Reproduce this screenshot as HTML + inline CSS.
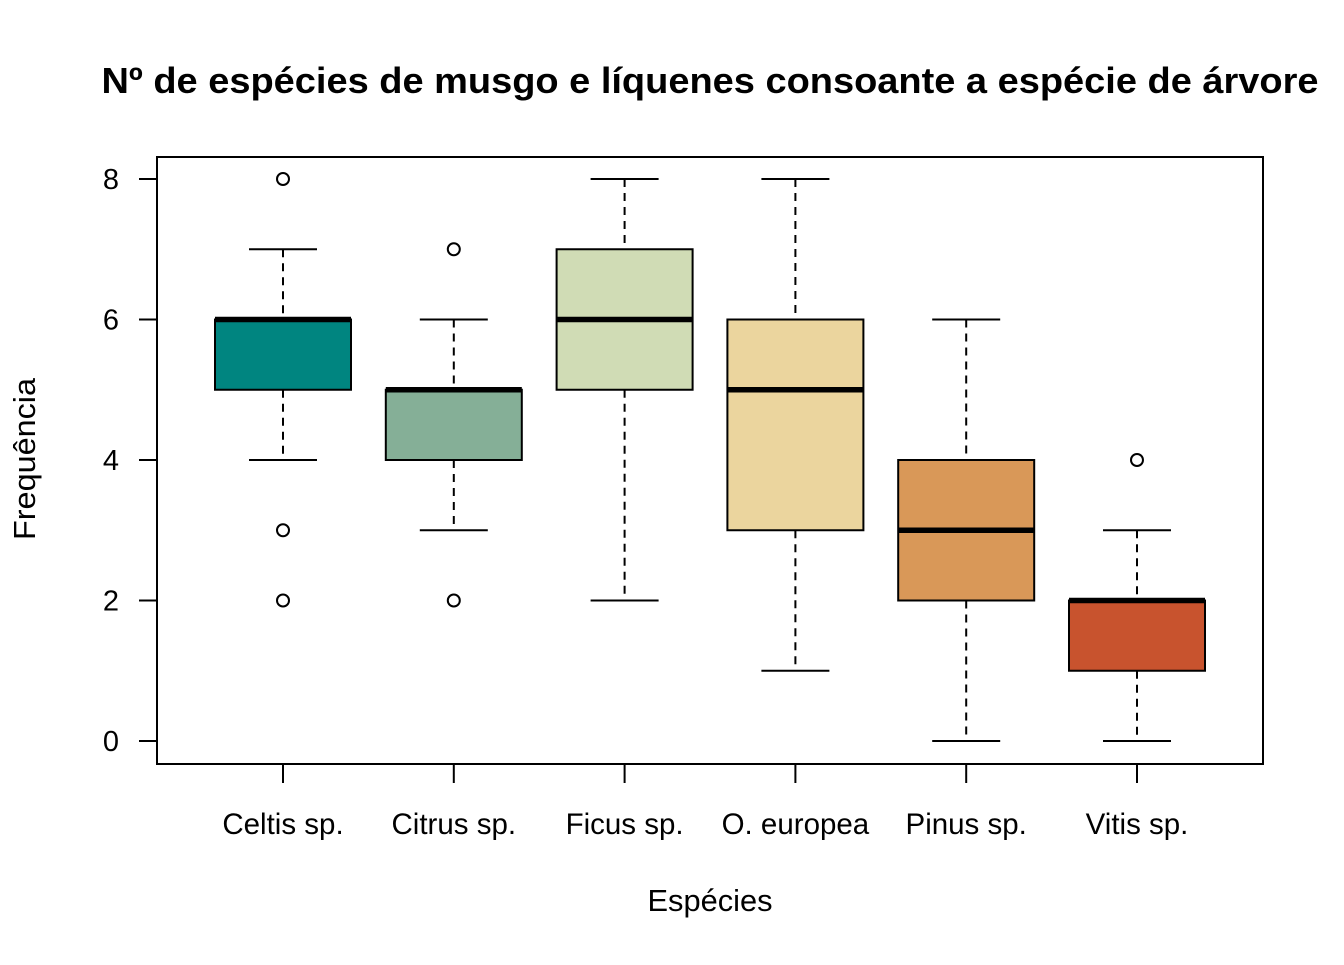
<!DOCTYPE html>
<html><head><meta charset="utf-8"><style>
body{margin:0;background:#fff}
svg text{font-family:"Liberation Sans",Arial,sans-serif;fill:#000}
</style></head><body>
<svg id="chart" width="1344" height="960" xmlns="http://www.w3.org/2000/svg">
<text x="710" y="93" text-anchor="middle" font-size="36" font-weight="bold" textLength="1217" lengthAdjust="spacingAndGlyphs">Nº de espécies de musgo e líquenes consoante a espécie de árvore</text>
<rect x="157" y="157" width="1106" height="607" fill="none" stroke="#000" stroke-width="2"/>
<g id="marks"></g>
<text x="710" y="911" text-anchor="middle" font-size="31" textLength="125" lengthAdjust="spacingAndGlyphs">Espécies</text>
<text transform="translate(35,459) rotate(-90)" text-anchor="middle" font-size="31" textLength="162" lengthAdjust="spacingAndGlyphs">Frequência</text>
</svg>
<script>
const categories=["Celtis sp.","Citrus sp.","Ficus sp.","O. europea","Pinus sp.","Vitis sp."];
const whiskerLow=[4,3,2,1,0,0];
const q1=[5,4,5,3,2,1];
const medians=[6,5,6,5,3,2];
const q3=[6,5,7,6,4,2];
const whiskerHigh=[7,6,8,8,6,3];
const outliers=[[8,3,2],[7,2],[],[],[],[4]];
const colors=["#008580","#85AF97","#D0DCB5","#EBD59E","#D99858","#C8532E"];
const yTicks=[0,2,4,6,8];
const NS="http://www.w3.org/2000/svg";
const y=v=>741-v*70.25;
const x=i=>283+i*170.8;
const g=document.getElementById('marks');
function mk(t,a){const e=document.createElementNS(NS,t);for(const k in a)e.setAttribute(k,a[k]);g.appendChild(e);return e;}
yTicks.forEach(v=>{
 const l=mk('line',{x1:139,x2:157,y1:y(v),y2:y(v),stroke:'#000','stroke-width':2});
 
 
 const t=mk('text',{x:119,y:y(v)+10,'text-anchor':'end','font-size':29});
 t.textContent=v;
 
 
});
categories.forEach((c,i)=>{
 const cx=x(i);
 const tk=mk('line',{x1:cx,x2:cx,y1:764,y2:783,stroke:'#000','stroke-width':2});
 
 
 const t=mk('text',{x:cx,y:834,'text-anchor':'middle','font-size':29.5});
 t.textContent=c;
 
 
 const w1=mk('line',{x1:cx,x2:cx,y1:y(whiskerHigh[i]),y2:y(q3[i]),stroke:'#000','stroke-width':2,'stroke-dasharray':'8,6'});
 
 
 const w2=mk('line',{x1:cx,x2:cx,y1:y(q1[i]),y2:y(whiskerLow[i]),stroke:'#000','stroke-width':2,'stroke-dasharray':'8,6'});
 
 
 [whiskerHigh[i],whiskerLow[i]].forEach(v=>{
  const cp=mk('line',{x1:cx-34,x2:cx+34,y1:y(v),y2:y(v),stroke:'#000','stroke-width':2});
  
  
 });
 const b=mk('rect',{x:cx-68,y:y(q3[i]),width:136,height:Math.max(y(q1[i])-y(q3[i]),0),fill:colors[i],stroke:'#000','stroke-width':2});
 
 
 const m=mk('line',{x1:cx-68,x2:cx+68,y1:y(medians[i]),y2:y(medians[i]),stroke:'#000','stroke-width':5.5});
 
 
 outliers[i].forEach(v=>{
  const o=mk('circle',{cx:cx,cy:y(v),r:6,fill:'none',stroke:'#000','stroke-width':2});
  
  
 });
});
</script>
</body></html>
